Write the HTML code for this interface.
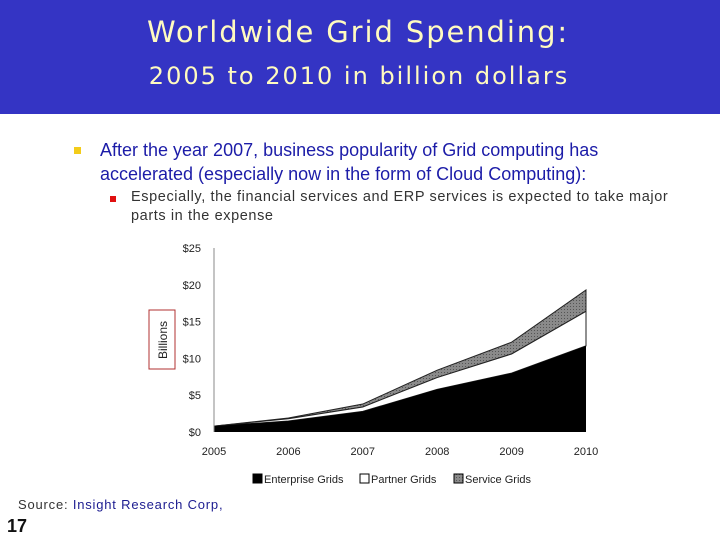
<!DOCTYPE html>
<html><head><meta charset="utf-8"><style>
body{margin:0;width:720px;height:540px;background:#fff;position:relative;overflow:hidden;font-family:"Liberation Sans",sans-serif}
.hdr{position:absolute;left:0;top:0;width:720px;height:114px;background:#3434c4}
.t1{position:absolute;left:0;width:716px;text-align:center;color:#fffbc0;top:15px;font-size:29px;font-family:"DejaVu Sans",sans-serif;letter-spacing:1.9px}
.t2{position:absolute;left:0;width:718px;text-align:center;color:#fffbc0;top:62px;font-size:24px;font-family:"DejaVu Sans",sans-serif;letter-spacing:2px}
.b1{position:absolute;left:100px;top:138px;color:#1c1ca8;font-size:18px;line-height:24px;width:565px}
.b2{position:absolute;left:131px;top:188px;color:#333;font-size:14.5px;line-height:19px;width:560px;letter-spacing:0.6px}
</style></head><body>
<div class="hdr"></div>
<div class="t1">Worldwide Grid Spending:</div>
<div class="t2">2005 to 2010 in billion dollars</div>
<div style="position:absolute;left:74px;top:147px;width:7px;height:7px;background:#f3cc1a"></div>
<div class="b1">After the year 2007, business popularity of Grid computing has accelerated (especially now in the form of Cloud Computing):</div>
<div style="position:absolute;left:110px;top:196px;width:6px;height:6px;background:#e01010"></div>
<div class="b2">Especially, the financial services and ERP services is expected to take major parts in the expense</div>
<svg id="chart" style="position:absolute;left:0;top:0" width="720" height="540">
<rect x="180" y="238" width="420" height="252" fill="#fff"/>
</svg>
<div style="position:absolute;left:18px;top:497px;font-size:13px;color:#1c1c90;letter-spacing:0.8px"><span style="color:#333">Source:</span> Insight Research Corp,</div>
<div style="position:absolute;left:7px;top:516px;font-size:18px;font-weight:bold;color:#111">17</div>
<script>
const years=['2005','2006','2007','2008','2009','2010'];
const enterprise=[0.8,1.5,2.8,5.8,8.0,11.7];
const partner=[0.0,0.3,0.6,1.6,2.6,4.7];
const service=[0.0,0.1,0.4,1.0,1.6,2.9];
const yTicks=[0,5,10,15,20,25];
const svg=document.getElementById('chart');
const NS='http://www.w3.org/2000/svg';
const x0=214,x1=586,y0=432,yTop=248;
const xs=i=>x0+(x1-x0)*i/(years.length-1);
const ys=v=>y0-(y0-yTop)*v/25;
function mk(t,a){const e=document.createElementNS(NS,t);for(const k in a)e.setAttribute(k,a[k]);svg.appendChild(e);return e;}
const defs=mk('defs',{});
defs.innerHTML='<pattern id="hatch" width="3" height="3" patternUnits="userSpaceOnUse"><rect width="3" height="3" fill="#8a8a8a"/><rect width="1" height="1" fill="#555"/></pattern>';
const c1=enterprise.map(v=>v);
const c2=c1.map((v,i)=>v+partner[i]);
const c3=c2.map((v,i)=>v+service[i]);
function band(top,bot){let d='M'+xs(0)+','+ys(top[0]);for(let i=1;i<top.length;i++)d+=' L'+xs(i)+','+ys(top[i]);for(let i=bot.length-1;i>=0;i--)d+=' L'+xs(i)+','+ys(bot[i]);return d+'Z';}
const zero=years.map(()=>0);
let p=mk('path',{d:band(c3,c2),fill:'url(#hatch)',stroke:'#222','stroke-width':1});

p=mk('path',{d:band(c2,c1),fill:'#fff',stroke:'#222','stroke-width':1});

p=mk('path',{d:band(c1,zero),fill:'#000'});

let ax=mk('line',{x1:x0,y1:yTop,x2:x0,y2:y0,stroke:'#888'});

yTicks.forEach(v=>{const t=mk('text',{x:x0-13,y:ys(v)+4,'text-anchor':'end','font-size':11,fill:'#222','font-family':'Liberation Sans'});t.textContent='$'+v;
});
years.forEach((y,i)=>{const t=mk('text',{x:xs(i),y:455,'text-anchor':'middle','font-size':11,fill:'#222','font-family':'Liberation Sans'});t.textContent=y;
});
let r=mk('rect',{x:149,y:310,width:26,height:59,fill:'#fff',stroke:'#b03030'});

let yt=mk('text',{x:167,y:340,'text-anchor':'middle','font-size':12,fill:'#222',transform:'rotate(-90 167 340)','font-family':'Liberation Sans'});yt.textContent='Billions';

const legend=[['Enterprise Grids','#000',253],['Partner Grids','#fff',360],['Service Grids','url(#hatch)',454]];
legend.forEach(l=>{const g=mk('g',{});
const s=document.createElementNS(NS,'rect');s.setAttribute('x',l[2]);s.setAttribute('y',474);s.setAttribute('width',9);s.setAttribute('height',9);s.setAttribute('fill',l[1]);s.setAttribute('stroke','#000');g.appendChild(s);
const t=document.createElementNS(NS,'text');t.setAttribute('x',l[2]+11);t.setAttribute('y',483);t.setAttribute('font-size',11);t.setAttribute('fill','#222');t.setAttribute('font-family','Liberation Sans');t.textContent=l[0];g.appendChild(t);});
</script>
</body></html>
